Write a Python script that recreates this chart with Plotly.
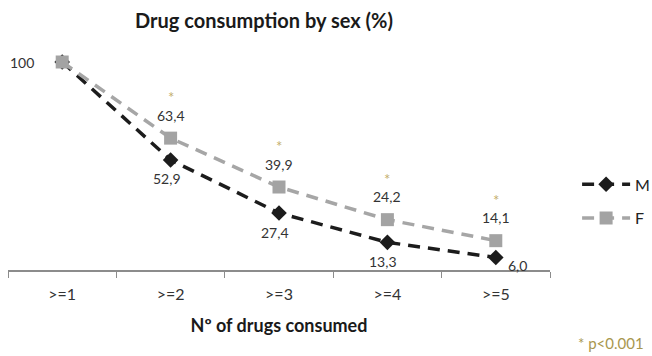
import plotly.graph_objects as go

categories = [">=1", ">=2", ">=3", ">=4", ">=5"]
male = [100, 52.9, 27.4, 13.3, 6.0]
female = [100, 63.4, 39.9, 24.2, 14.1]
male_labels = ["", "52,9", "27,4", "13,3", "6,0"]
female_labels = ["100", "63,4", "39,9", "24,2", "14,1"]
significant = [False, True, True, True, True]

FONT = "Lato, 'Open Sans', sans-serif"
LABEL_FONT = dict(size=14, color="#333")

fig = go.Figure()
fig.add_trace(go.Scatter(
    x=categories, y=male, name="M", mode="lines+markers", legendgroup="m",
    line=dict(color="#1c1c1c", width=3.5, dash="12px,8px"),
    marker=dict(symbol="diamond", size=12, color="#1c1c1c"),
    cliponaxis=False,
))
fig.add_trace(go.Scatter(
    x=categories, y=female, name="F", mode="lines+markers", legendgroup="f",
    line=dict(color="#a6a6a6", width=3.5, dash="12px,8px"),
    marker=dict(symbol="square", size=13, color="#a3a3a3"),
    cliponaxis=False,
))

annotations = []
for i, (cat, v, lab) in enumerate(zip(categories, female, female_labels)):
    if i == 0:
        annotations.append(dict(x=cat, y=v, text=lab, showarrow=False,
                                xshift=-40, font=LABEL_FONT))
        continue
    annotations.append(dict(x=cat, y=v, text=lab, showarrow=False,
                            yshift=23, font=LABEL_FONT))
    if significant[i]:
        annotations.append(dict(x=cat, y=v, text="*", showarrow=False,
                                yshift=41, font=dict(size=15, color="#c4ae6a")))

for i, (cat, v, lab) in enumerate(zip(categories, male, male_labels)):
    if not lab:
        continue
    if i == len(categories) - 1:
        annotations.append(dict(x=cat, y=v, text=lab, showarrow=False,
                                xshift=22, yshift=-8, font=LABEL_FONT))
    else:
        annotations.append(dict(x=cat, y=v, text=lab, showarrow=False,
                                xshift=-4, yshift=-19, font=LABEL_FONT))

annotations.append(dict(xref="paper", yref="paper", x=(264 - 8) / 542, y=1,
                        yshift=56, text="<b>Drug consumption by sex (%)</b>",
                        showarrow=False, font=dict(size=20, color="#1a1a1a")))
annotations.append(dict(xref="paper", yref="paper", x=1, y=0, xshift=96, yshift=-84,
                        xanchor="right", text="* p<0.001", showarrow=False,
                        font=dict(size=15, color="#a8974e")))

fig.update_layout(
    width=652, height=356,
    margin=dict(l=8, r=102, t=62, b=86, autoexpand=False),
    paper_bgcolor="white", plot_bgcolor="white",
    font=dict(family=FONT, color="#333"),
    showlegend=True,
    legend=dict(x=1.05, y=0.33, xanchor="left", yanchor="middle",
                font=dict(size=16, color="#222"), tracegroupgap=10,
                itemwidth=48, bgcolor="rgba(0,0,0,0)"),
    annotations=annotations,
)
fig.update_xaxes(
    type="category", range=[-0.5, 4.5], showline=True, linecolor="#8c8c8c",
    linewidth=1.5, ticks="outside", tickson="boundaries", ticklen=6,
    tickcolor="#8c8c8c", showgrid=False, zeroline=False,
    tickfont=dict(size=16, color="#333"), ticklabelstandoff=9,
    title=dict(text="<b>Nº of drugs consumed</b>", font=dict(size=18, color="#1a1a1a"),
               standoff=17),
)
fig.update_yaxes(range=[0, 100], visible=False, showgrid=False, zeroline=False)

fig.write_html("out.html")
